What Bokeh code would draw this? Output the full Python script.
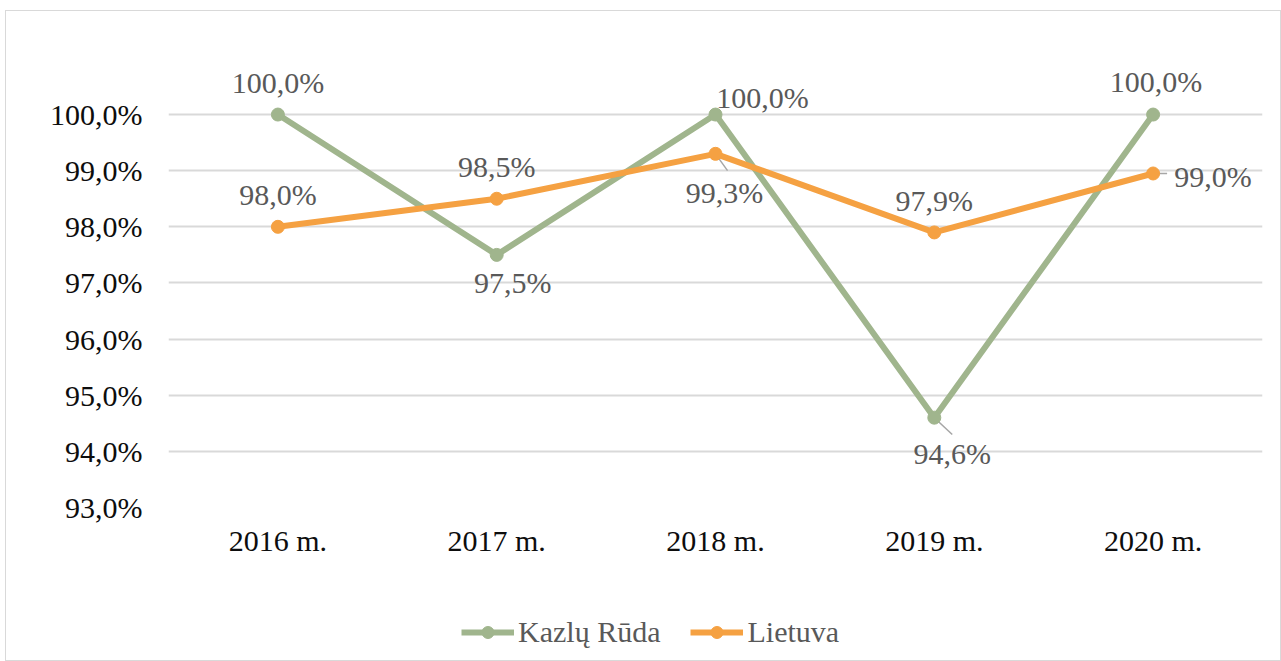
from bokeh.plotting import figure
from bokeh.layouts import column
from bokeh.models import FixedTicker, Legend, LegendItem, ColumnDataSource
from bokeh.core.properties import value
from bokeh.embed import file_html
from bokeh.resources import INLINE

years = ["2016 m.", "2017 m.", "2018 m.", "2019 m.", "2020 m."]
kazlu_ruda = [100.0, 97.5, 100.0, 94.6, 100.0]
lietuva = [98.0, 98.5, 99.3, 97.9, 98.95]
y_ticks = [93, 94, 95, 96, 97, 98, 99, 100]
series_names = ["Kazlų Rūda", "Lietuva"]

GREEN = "#A0B58D"
ORANGE = "#F5A142"
FONT = "Liberation Serif"

def fmt(v):
    return f"{round(v + 1e-9, 1):.1f}".replace(".", ",") + "%"

p = figure(x_range=years, y_range=(93, 101.23), width=1274, height=579,
           output_backend="svg", toolbar_location=None,
           min_border_left=162, min_border_right=18, min_border_top=34, min_border_bottom=83)
p.outline_line_color = None
p.xgrid.grid_line_color = None
p.ygrid.grid_line_color = "#d9d9d9"
p.ygrid.grid_line_width = 2

p.yaxis.ticker = FixedTicker(ticks=y_ticks)
p.yaxis.major_label_overrides = {t: fmt(t) for t in y_ticks}
for ax in (p.xaxis, p.yaxis):
    ax.axis_line_color = None
    ax.major_tick_line_color = None
    ax.minor_tick_line_color = None
    ax.major_label_text_font = FONT
    ax.major_label_text_font_size = "30px"
    ax.major_label_text_color = "#0d0d0d"
p.yaxis.major_label_standoff = 20
p.xaxis.major_label_standoff = 10

src_g = ColumnDataSource(dict(x=years, y=kazlu_ruda, t=[fmt(v) for v in kazlu_ruda],
                              dx=[0, 16, 47, 18, 3], dy=[-32, 28, -17, 36, -33]))
src_o = ColumnDataSource(dict(x=years, y=lietuva, t=[fmt(v) for v in lietuva],
                              dx=[0, 0, 9, 0, 60], dy=[-32, -32, 39, -32, 3]))

# leader lines (synthetic categorical coordinates)
lead_x0 = [3.5, 2.5, 4.5]
lead_y0 = [kazlu_ruda[3], lietuva[2], lietuva[4]]
lead_x1 = [3.5 + 0.082, 2.5 + 0.055, 4.5 + 0.064]
lead_y1 = [kazlu_ruda[3] - 0.30, lietuva[2] - 0.30, lietuva[4]]
p.segment(x0=lead_x0, y0=lead_y0, x1=lead_x1, y1=lead_y1, line_color="#a6a6a6", line_width=1.5)

p.line("x", "y", source=src_g, line_color=GREEN, line_width=6)
p.scatter("x", "y", source=src_g, size=13, fill_color=GREEN, line_color=GREEN)
p.line("x", "y", source=src_o, line_color=ORANGE, line_width=6)
p.scatter("x", "y", source=src_o, size=13, fill_color=ORANGE, line_color=ORANGE)

for src in (src_g, src_o):
    p.text("x", "y", text="t", source=src, x_offset="dx", y_offset="dy",
           text_font=value(FONT), text_font_size="30px", text_color="#595959",
           text_align="center", text_baseline="middle")

# legend strip below the chart (series drawn outside its visible y range; only the legend shows)
p2 = figure(width=1274, height=70, x_range=years, y_range=(0, 1),
            output_backend="svg", toolbar_location=None, min_border=0)
p2.axis.visible = False
p2.grid.visible = False
p2.outline_line_color = None
items = []
for name, col, src in zip(series_names, [GREEN, ORANGE], [src_g, src_o]):
    r1 = p2.line("x", "y", source=src, line_color=col, line_width=6)
    r2 = p2.scatter("x", "y", source=src, size=13, fill_color=col, line_color=col)
    items.append(LegendItem(label=name, renderers=[r1, r2]))
legend = Legend(items=items, location=(293, 11), orientation="horizontal", padding=0, margin=0,
                glyph_width=53, glyph_height=30, label_standoff=4, spacing=30,
                label_text_font=FONT, label_text_font_size="30px", label_text_color="#595959",
                border_line_color=None, background_fill_alpha=0)
p2.add_layout(legend, "center")

layout = column(p, p2, spacing=0)
layout.styles = {"border": "1px solid #d9d9d9", "margin-left": "5px", "margin-top": "10px"}

open("out.html", "w").write(file_html(layout, INLINE))
